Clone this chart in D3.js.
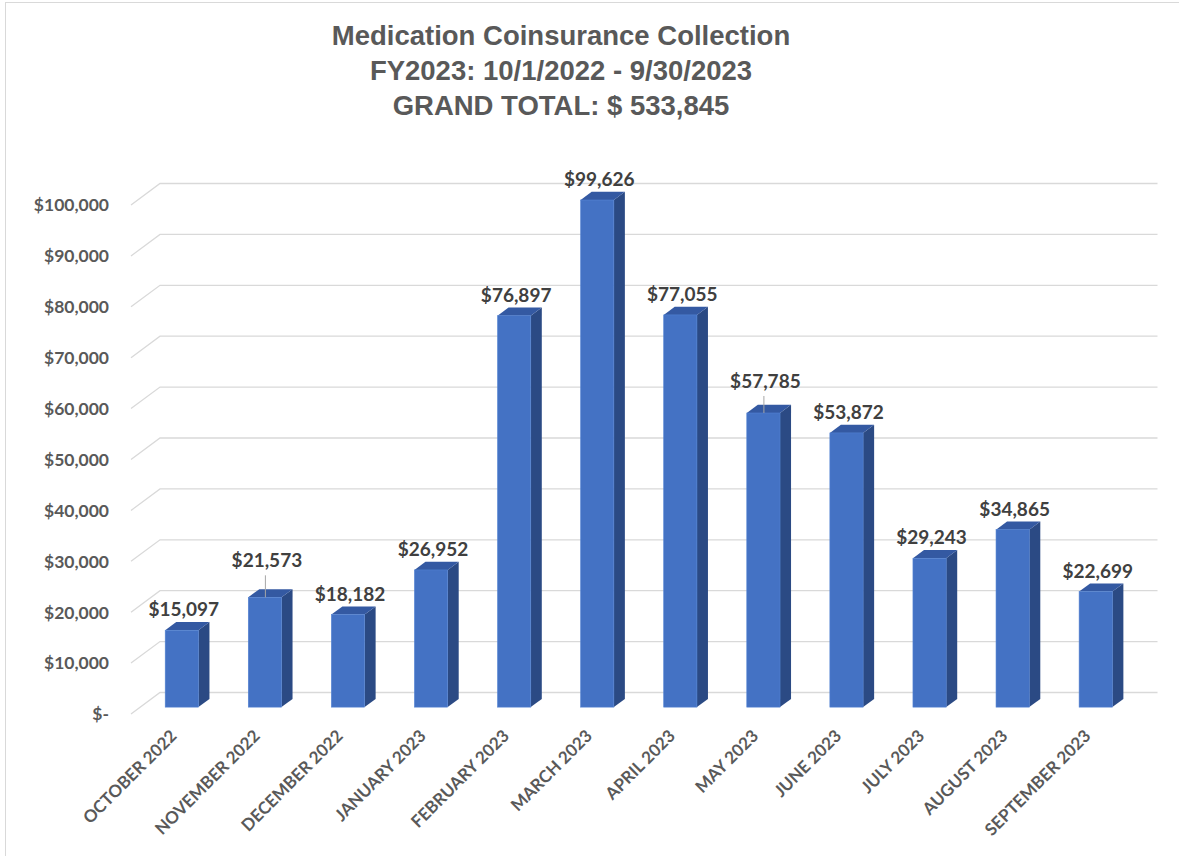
<!DOCTYPE html>
<html>
<head>
<meta charset="utf-8">
<script src="https://cdn.jsdelivr.net/npm/d3@7"></script>
<style>
  html, body { margin: 0; padding: 0; background: #ffffff; }
  svg { display: block; }
</style>
</head>
<body>
<svg id="chart" width="1179" height="856"></svg>
<script>
// Monthly medication coinsurance collected, fiscal year 2023
const months = [
  "OCTOBER 2022", "NOVEMBER 2022", "DECEMBER 2022", "JANUARY 2023",
  "FEBRUARY 2023", "MARCH 2023", "APRIL 2023", "MAY 2023",
  "JUNE 2023", "JULY 2023", "AUGUST 2023", "SEPTEMBER 2023"
];
const collected = [
  15097, 21573, 18182, 26952, 76897, 99626,
  77055, 57785, 53872, 29243, 34865, 22699
];
const yTicks = [0, 10000, 20000, 30000, 40000, 50000, 60000, 70000, 80000, 90000, 100000];
const titleLines = [
  "Medication Coinsurance Collection",
  "FY2023: 10/1/2022 - 9/30/2023",
  "GRAND TOTAL: $ 533,845"
];

// Labels that were pulled up with a leader line (lift in px)
const labelLift = { "NOVEMBER 2022": 16, "MAY 2023": 11 };

const svg = d3.select("#chart");

// Outer chart-area frame
svg.append("rect")
  .attr("x", 5.5).attr("y", 2.5)
  .attr("width", 1250).attr("height", 900)
  .attr("fill", "#ffffff")
  .attr("stroke", "#d9d9d9").attr("stroke-width", 1);

// Oblique projection for the pseudo-3D floor / walls
const depthX = 29, depthY = 21.5;        // full floor depth offset
const barD0 = 0.32, barD1 = 0.70;        // bar front/back depth (fraction)

const x = d3.scaleBand().domain(months).range([131, 1128]).paddingInner(0).paddingOuter(0);
const y = d3.scaleLinear().domain([0, 100000]).range([714, 205]);

const fmtMoney = d3.format(",");
const tickText = v => v === 0 ? "$-" : "$" + fmtMoney(v);

// Gridlines: diagonal along the side wall, then across the back wall
const grid = svg.append("g").attr("class", "grid");
grid.selectAll("path").data(yTicks).join("path")
  .attr("d", v => {
    const yf = y(v);
    const yb = yf - depthY;
    return `M${x.range()[0]},${yf} L${x.range()[0] + depthX},${yb} L${x.range()[1] + depthX + 0.5},${yb}`;
  })
  .attr("fill", "none")
  .attr("stroke", "#d9d9d9")
  .attr("stroke-width", 1.3);

// Value axis labels
svg.append("g").selectAll("text").data(yTicks).join("text")
  .attr("x", 109)
  .attr("y", v => y(v))
  .attr("dy", "0.36em")
  .attr("text-anchor", "end")
  .attr("font-family", "Lato, 'Open Sans', sans-serif")
  .attr("font-weight", 700)
  .attr("font-size", 17.5)
  .attr("fill", "#595959")
  .text(tickText);

// Bars
const bw = x.bandwidth() * 0.4;
const sx = (depthX * (barD1 - barD0));
const sy = (depthY * (barD1 - barD0));
const frontLeft = d => x(d.m) + x.bandwidth() / 2 - bw / 2 + depthX * barD0;
const frontTop = d => y(d.v) - depthY * barD0;
const frontBottom = () => y(0) - depthY * barD0;

const data = months.map((m, i) => ({ m, v: collected[i] }));

const bars = svg.append("g").attr("class", "bars")
  .selectAll("g").data(data).join("g");

// side face
bars.append("path")
  .attr("d", d => {
    const xr = frontLeft(d) + bw, t = frontTop(d), b = frontBottom();
    return `M${xr},${t} L${xr + sx},${t - sy} L${xr + sx},${b - sy} L${xr},${b} Z`;
  })
  .attr("fill", "#2b4a84");

// top face
bars.append("path")
  .attr("d", d => {
    const xl = frontLeft(d), t = frontTop(d);
    return `M${xl},${t} L${xl + sx},${t - sy} L${xl + bw + sx},${t - sy} L${xl + bw},${t} Z`;
  })
  .attr("fill", "#3459a2");

// front face
bars.append("rect")
  .attr("x", d => frontLeft(d))
  .attr("y", d => frontTop(d))
  .attr("width", bw)
  .attr("height", d => frontBottom() - frontTop(d))
  .attr("fill", "#4472c4")
  .attr("stroke", "#5282d2")
  .attr("stroke-width", 0.6);

// Data labels with optional leader lines
const barCenter = d => frontLeft(d) + bw / 2;
const labelBase = d => frontTop(d) - 14 - (labelLift[d.m] || 0);

svg.append("g").selectAll("line")
  .data(data.filter(d => labelLift[d.m]))
  .join("line")
  .attr("x1", d => barCenter(d) + 0.5)
  .attr("x2", d => barCenter(d) + 0.5)
  .attr("y1", d => labelBase(d) + 8)
  .attr("y2", d => frontTop(d))
  .attr("stroke", "#a6a6a6")
  .attr("stroke-width", 1);

svg.append("g").selectAll("text").data(data).join("text")
  .attr("x", d => barCenter(d) + 2)
  .attr("y", d => labelBase(d))
  .attr("text-anchor", "middle")
  .attr("font-family", "Lato, 'Open Sans', sans-serif")
  .attr("font-weight", 700)
  .attr("font-size", 19)
  .attr("fill", "#404040")
  .text(d => "$" + fmtMoney(d.v));

// Category labels, rotated
svg.append("g").selectAll("text").data(data).join("text")
  .attr("transform", d => `translate(${barCenter(d) - 4},737) rotate(-45)`)
  .attr("text-anchor", "end")
  .attr("font-family", "Lato, 'Open Sans', sans-serif")
  .attr("font-weight", 700)
  .attr("font-size", 17)
  .attr("fill", "#595959")
  .text(d => d.m);

// Title
svg.append("g").selectAll("text").data(titleLines).join("text")
  .attr("x", 561)
  .attr("y", (d, i) => 45 + i * 35)
  .attr("text-anchor", "middle")
  .attr("font-family", "'Liberation Sans', Arial, sans-serif")
  .attr("font-weight", 700)
  .attr("font-size", 27.5)
  .attr("fill", "#595959")
  .text(d => d);
</script>
</body>
</html>
